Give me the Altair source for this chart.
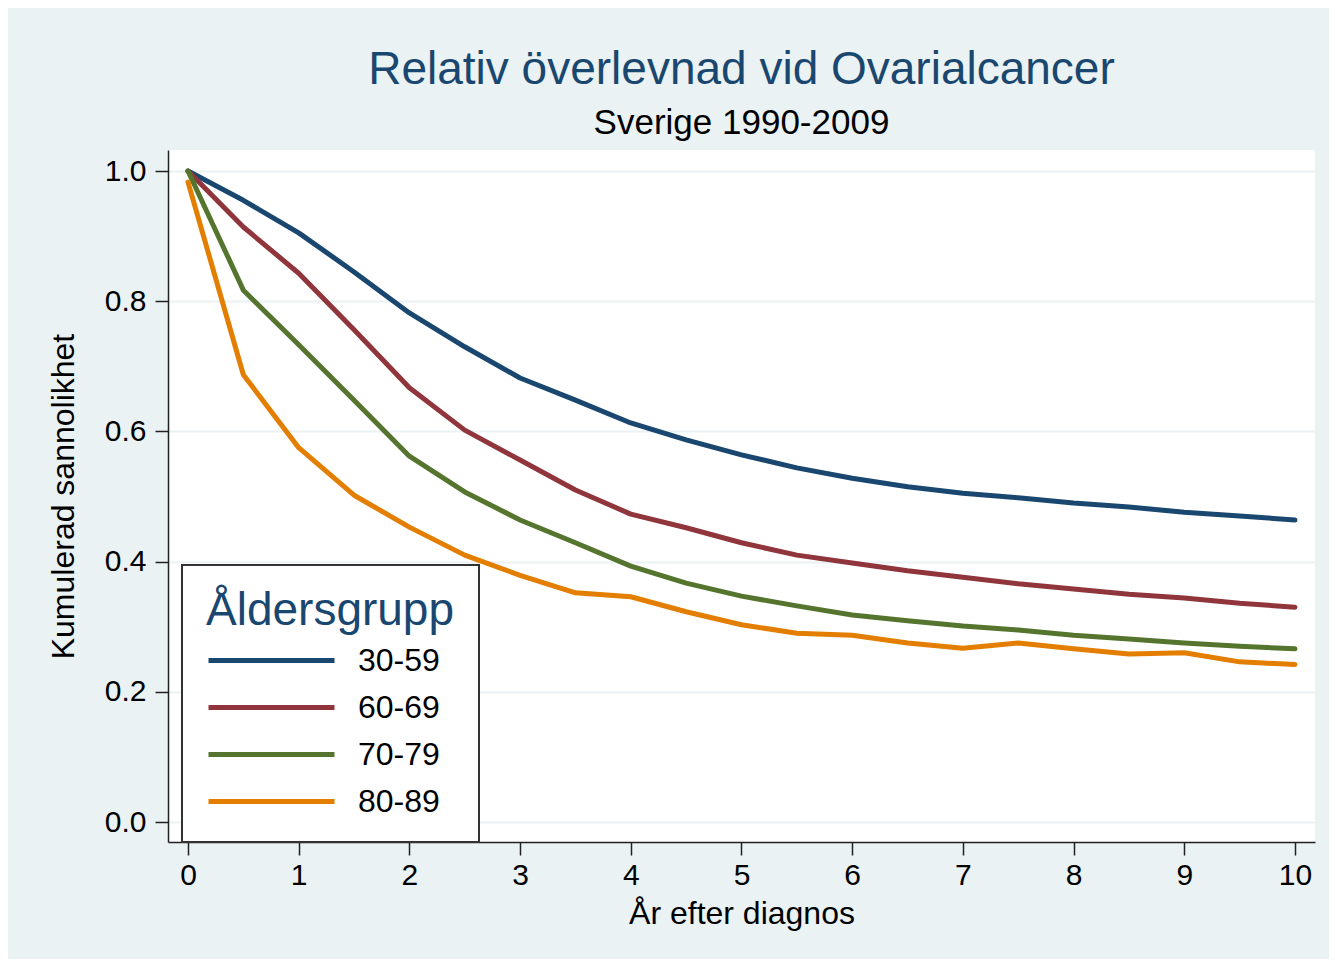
import altair as alt
import pandas as pd

years = [0, 0.5, 1, 1.5, 2, 2.5, 3, 3.5, 4, 4.5, 5, 5.5, 6, 6.5, 7, 7.5, 8, 8.5, 9, 9.5, 10]
groups = ["30-59", "60-69", "70-79", "80-89"]
s_30_59 = [1.0, 0.955, 0.905, 0.845, 0.782, 0.73, 0.682, 0.648, 0.613, 0.587, 0.564, 0.544, 0.528, 0.515, 0.505, 0.498, 0.49, 0.484, 0.476, 0.47, 0.464]
s_60_69 = [1.0, 0.914, 0.843, 0.756, 0.667, 0.602, 0.556, 0.51, 0.473, 0.452, 0.429, 0.41, 0.398, 0.386, 0.376, 0.366, 0.358, 0.35, 0.344, 0.336, 0.33]
s_70_79 = [1.0, 0.817, 0.733, 0.648, 0.562, 0.507, 0.464, 0.429, 0.393, 0.367, 0.347, 0.332, 0.318, 0.309, 0.301, 0.295, 0.287, 0.281, 0.275, 0.27, 0.266]
s_80_89 = [0.983, 0.687, 0.575, 0.502, 0.453, 0.41, 0.379, 0.352, 0.346, 0.323, 0.303, 0.29, 0.287, 0.275, 0.267, 0.275, 0.266, 0.258, 0.26, 0.246, 0.242]
colors = ["#1a476f", "#90353b", "#55752f", "#e37e00"]
x_ticks = list(range(0, 11))
y_ticks = [0.0, 0.2, 0.4, 0.6, 0.8, 1.0]

rows = []
for g, series in zip(groups, [s_30_59, s_60_69, s_70_79, s_80_89]):
    for x, y in zip(years, series):
        rows.append({"year": x, "value": y, "group": g})
df = pd.DataFrame(rows)

FONT = "Liberation Sans"

chart = alt.Chart(df).mark_line(strokeWidth=5, clip=True, strokeJoin="round", strokeCap="round").encode(
    x=alt.X("year:Q",
            scale=alt.Scale(domain=[-0.1807, 10.181], nice=False, zero=False),
            axis=alt.Axis(values=x_ticks, title="År efter diagnos", format="d", grid=False,
                          labelFontSize=30, titleFontSize=32, titlePadding=8,
                          tickSize=13, labelPadding=5)),
    y=alt.Y("value:Q",
            scale=alt.Scale(domain=[-0.0307, 1.0323], nice=False, zero=False),
            axis=alt.Axis(values=y_ticks, title="Kumulerad sannolikhet", format=".1f", grid=True,
                          labelFontSize=30, titleFontSize=32, titlePadding=24,
                          tickSize=13, labelPadding=9)),
    color=alt.Color("group:N",
                    scale=alt.Scale(domain=groups, range=colors),
                    legend=alt.Legend(orient="none", legendX=14, legendY=415,
                                      title="Åldersgrupp", titleFontSize=46,
                                      titleColor="#1a476f", titleFontWeight="normal",
                                      titleFont=FONT, labelFont=FONT, titleLimit=500,
                                      labelFontSize=32, labelColor="#000",
                                      symbolType="M-1,0H8", symbolSize=784,
                                      symbolStrokeWidth=5, strokeColor="#333",
                                      fillColor="white", padding=24,
                                      labelOffset=119, rowPadding=14, titlePadding=9)),
    order=alt.Order("year:Q"),
).properties(
    width=1147,
    height=692,
    title=alt.TitleParams(
        text="Relativ överlevnad vid Ovarialcancer",
        subtitle="Sverige 1990-2009",
        fontSize=46, color="#1a476f", fontWeight="normal", font=FONT,
        subtitleFontSize=35, subtitleColor="#000", subtitleFont=FONT,
        subtitlePadding=12, anchor="middle", offset=8,
    ),
    autosize=alt.AutoSizeParams(type="none"),
    padding={"left": 160, "top": 142, "right": 14, "bottom": 117},
    background="#eaf2f3",
).configure_view(
    fill="white", stroke=None,
).configure_legend(
    strokeWidth=2,
).configure_axis(
    labelFont=FONT, titleFont=FONT, labelColor="#000", titleColor="#000",
    titleFontWeight="normal", domainColor="#222", domainWidth=1.5,
    tickColor="#222", tickWidth=1.5, gridColor="#eaf2f3", gridWidth=2,
)

chart.save("out.html", embed_options={"renderer": "svg", "actions": False})
